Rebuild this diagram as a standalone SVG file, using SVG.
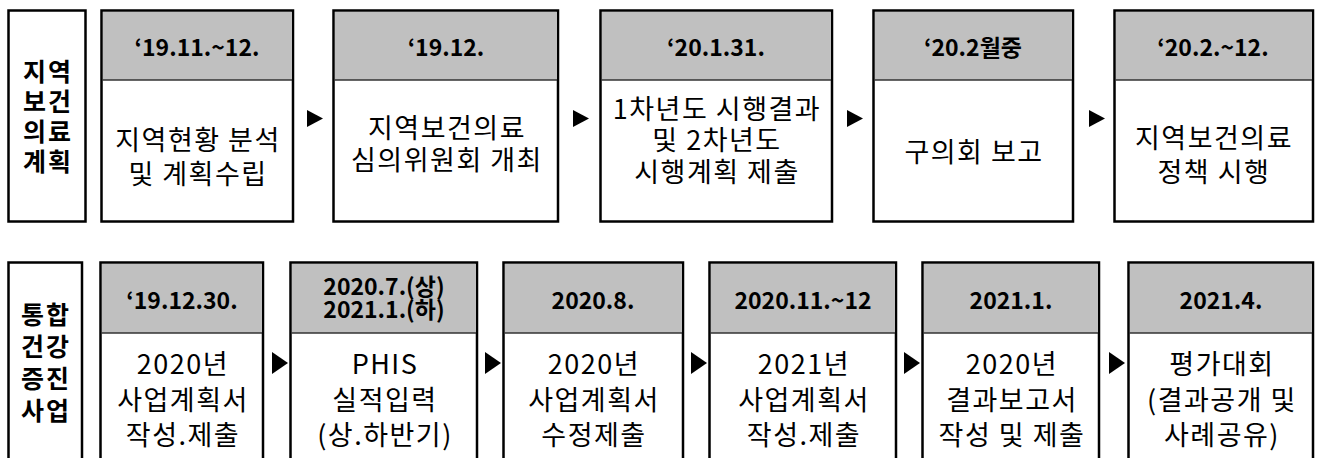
<svg xmlns="http://www.w3.org/2000/svg" width="1321" height="458" viewBox="0 0 1321 458">
<style>
text{font-family:"Noto Sans CJK KR","Noto Sans",sans-serif;fill:#000;text-anchor:middle;dominant-baseline:central}
.box{fill:#fff;stroke:#000;stroke-width:2.5}
.hd{fill:#c0c0c0;stroke:none}
.sep{stroke:#333;stroke-width:1.5}
.lbl{font-size:25px;font-weight:700;letter-spacing:2px}
.ht{font-size:23px;font-weight:700}
.bt{font-size:27px;font-weight:400;letter-spacing:1.5px}
.arr{fill:#000}
</style>
<rect width="1321" height="458" fill="#fff"/>
<!-- top row -->
<g id="label-top">
<rect class="box" x="8.5" y="10.5" width="77" height="211"/>
<text class="lbl" x="48" y="70">지역</text>
<text class="lbl" x="48" y="100">보건</text>
<text class="lbl" x="48" y="130">의료</text>
<text class="lbl" x="48" y="160">계획</text>
</g>
<g id="t1">
<rect class="box" x="101.5" y="10.5" width="191.5" height="211"/>
<rect class="hd" x="103" y="12" width="188.5" height="68"/>
<line class="sep" x1="102" y1="80" x2="292" y2="80"/>
<text class="ht" x="197" y="46">‘19.11.~12.</text>
<text class="bt" x="198" y="138">지역현황 분석</text>
<text class="bt" x="198" y="172">및 계획수립</text>
</g>
<g id="t2">
<rect class="box" x="333.5" y="10.5" width="224.5" height="211"/>
<rect class="hd" x="335" y="12" width="221.5" height="68"/>
<line class="sep" x1="334" y1="80" x2="557" y2="80"/>
<text class="ht" x="446" y="46">‘19.12.</text>
<text class="bt" x="447" y="126">지역보건의료</text>
<text class="bt" x="447" y="158">심의위원회 개최</text>
</g>
<g id="t3">
<rect class="box" x="600.5" y="10.5" width="231.5" height="211"/>
<rect class="hd" x="602" y="12" width="228.5" height="68"/>
<line class="sep" x1="601" y1="80" x2="831" y2="80"/>
<text class="ht" x="716" y="46">‘20.1.31.</text>
<text class="bt" x="717" y="107">1차년도 시행결과</text>
<text class="bt" x="717" y="138">및 2차년도</text>
<text class="bt" x="717" y="170">시행계획 제출</text>
</g>
<g id="t4">
<rect class="box" x="873.5" y="10.5" width="199.5" height="211"/>
<rect class="hd" x="875" y="12" width="196.5" height="68"/>
<line class="sep" x1="874" y1="80" x2="1072" y2="80"/>
<text class="ht" x="973" y="46">‘20.2월중</text>
<text class="bt" x="974" y="150">구의회 보고</text>
</g>
<g id="t5">
<rect class="box" x="1114.5" y="10.5" width="198.5" height="211"/>
<rect class="hd" x="1116" y="12" width="195.5" height="68"/>
<line class="sep" x1="1115" y1="80" x2="1312" y2="80"/>
<text class="ht" x="1213" y="46">‘20.2.~12.</text>
<text class="bt" x="1214" y="136">지역보건의료</text>
<text class="bt" x="1214" y="170">정책 시행</text>
</g>
<!-- bottom row -->
<g id="label-bottom">
<rect class="box" x="8.5" y="262.5" width="73.5" height="220"/>
<text class="lbl" x="46" y="313">통합</text>
<text class="lbl" x="46" y="345">건강</text>
<text class="lbl" x="46" y="377">증진</text>
<text class="lbl" x="46" y="409">사업</text>
</g>
<g id="b1">
<rect class="box" x="100.5" y="262.5" width="162.5" height="220"/>
<rect class="hd" x="102" y="264" width="159.5" height="69"/>
<line class="sep" x1="101" y1="333" x2="262" y2="333"/>
<text class="ht" x="182" y="299">‘19.12.30.</text>
<text class="bt" x="183" y="362">2020년</text>
<text class="bt" x="183" y="398">사업계획서</text>
<text class="bt" x="183" y="433">작성.제출</text>
</g>
<g id="b2">
<rect class="box" x="290.5" y="262.5" width="186.5" height="220"/>
<rect class="hd" x="292" y="264" width="183.5" height="69"/>
<line class="sep" x1="291" y1="333" x2="476" y2="333"/>
<text class="ht" x="384" y="285">2020.7.(상)</text>
<text class="ht" x="384" y="308">2021.1.(하)</text>
<text class="bt" x="385" y="362">PHIS</text>
<text class="bt" x="385" y="398">실적입력</text>
<text class="bt" x="385" y="433">(상.하반기)</text>
</g>
<g id="b3">
<rect class="box" x="503.5" y="262.5" width="179.5" height="220"/>
<rect class="hd" x="505" y="264" width="176.5" height="69"/>
<line class="sep" x1="504" y1="333" x2="682" y2="333"/>
<text class="ht" x="593" y="299">2020.8.</text>
<text class="bt" x="594" y="362">2020년</text>
<text class="bt" x="594" y="398">사업계획서</text>
<text class="bt" x="594" y="433">수정제출</text>
</g>
<g id="b4">
<rect class="box" x="709.5" y="262.5" width="186.5" height="220"/>
<rect class="hd" x="711" y="264" width="183.5" height="69"/>
<line class="sep" x1="710" y1="333" x2="895" y2="333"/>
<text class="ht" x="803" y="299">2020.11.~12</text>
<text class="bt" x="804" y="362">2021년</text>
<text class="bt" x="804" y="398">사업계획서</text>
<text class="bt" x="804" y="433">작성.제출</text>
</g>
<g id="b5">
<rect class="box" x="922.5" y="262.5" width="176.5" height="220"/>
<rect class="hd" x="924" y="264" width="173.5" height="69"/>
<line class="sep" x1="923" y1="333" x2="1098" y2="333"/>
<text class="ht" x="1011" y="299">2021.1.</text>
<text class="bt" x="1012" y="362">2020년</text>
<text class="bt" x="1012" y="398">결과보고서</text>
<text class="bt" x="1012" y="433">작성 및 제출</text>
</g>
<g id="b6">
<rect class="box" x="1128.5" y="262.5" width="184.5" height="220"/>
<rect class="hd" x="1130" y="264" width="181.5" height="69"/>
<line class="sep" x1="1129" y1="333" x2="1312" y2="333"/>
<text class="ht" x="1221" y="299">2021.4.</text>
<text class="bt" x="1222" y="362">평가대회</text>
<text class="bt" x="1222" y="398">(결과공개 및</text>
<text class="bt" x="1222" y="433">사례공유)</text>
</g>
<g id="connectors">
<polygon class="arr" points="307,110 323,118.5 307,127"/>
<polygon class="arr" points="573,110 589,118.5 573,127"/>
<polygon class="arr" points="847,110 863,118.5 847,127"/>
<polygon class="arr" points="1089,110 1105,118.5 1089,127"/>
<polygon class="arr" points="272,352 288,363 272,374"/>
<polygon class="arr" points="485,352 501,363 485,374"/>
<polygon class="arr" points="691,352 707,363 691,374"/>
<polygon class="arr" points="904,352 920,363 904,374"/>
<polygon class="arr" points="1109,352 1125,363 1109,374"/>
</g>
</svg>
